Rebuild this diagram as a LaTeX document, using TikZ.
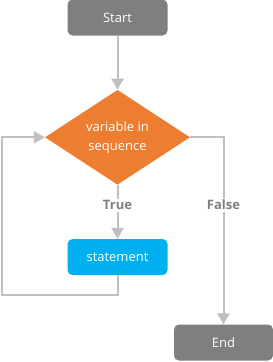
\documentclass[tikz,border=0pt]{standalone}
\usepackage{fontspec}
\setmainfont{Open Sans}
\usepackage{xcolor}
\usetikzlibrary{arrows.meta, positioning, shapes.geometric}

\definecolor{boxgray}{RGB}{127,127,127}
\definecolor{condorange}{RGB}{237,125,49}
\definecolor{stmtblue}{RGB}{0,176,240}
\definecolor{linegray}{RGB}{191,191,191}

\begin{document}
\begin{tikzpicture}[x=1pt, y=-1pt, >={Triangle[width=12pt,length=11pt]},
            node distance=54pt,
            term/.style={rectangle, rounded corners=5pt, fill=boxgray, text=white, minimum width=100pt, minimum height=36pt, font=\fontsize{13}{15}\selectfont},
            cond/.style={diamond, fill=condorange, text=white, inner sep=0pt, minimum width=145pt, minimum height=91pt, align=center, font=\fontsize{13}{19}\selectfont},
            stmtbox/.style={term, fill=stmtblue},
            flow/.style={draw=linegray, line width=2pt},
            lbl/.style={fill=white, text=boxgray, inner sep=2pt, font=\fontsize{13}{15}\selectfont\bfseries}]

            \useasboundingbox[fill=white] (0,0) rectangle (273,362);

            \node[term] (start) at (117.5,17.5) {Start};
            \node[cond, below=of start] (loopcond) {variable in\\sequence};
            \node[stmtbox, below=of loopcond] (stmt) {statement};
            \node[term, minimum width=99pt] (end) at (223.5,342.5) {End};
            \coordinate (back) at (2,295);

            \draw[flow, ->] (start) -- (loopcond);
            \draw[flow, ->] (loopcond) -- node[lbl, pos=0.38] {True} (stmt);
            \draw[flow, ->] (loopcond.east) -| node[lbl, pos=0.68] {False} (end);
            \draw[flow, ->] (stmt.south) |- (back) |- (loopcond.west);
        \end{tikzpicture}
\end{document}
